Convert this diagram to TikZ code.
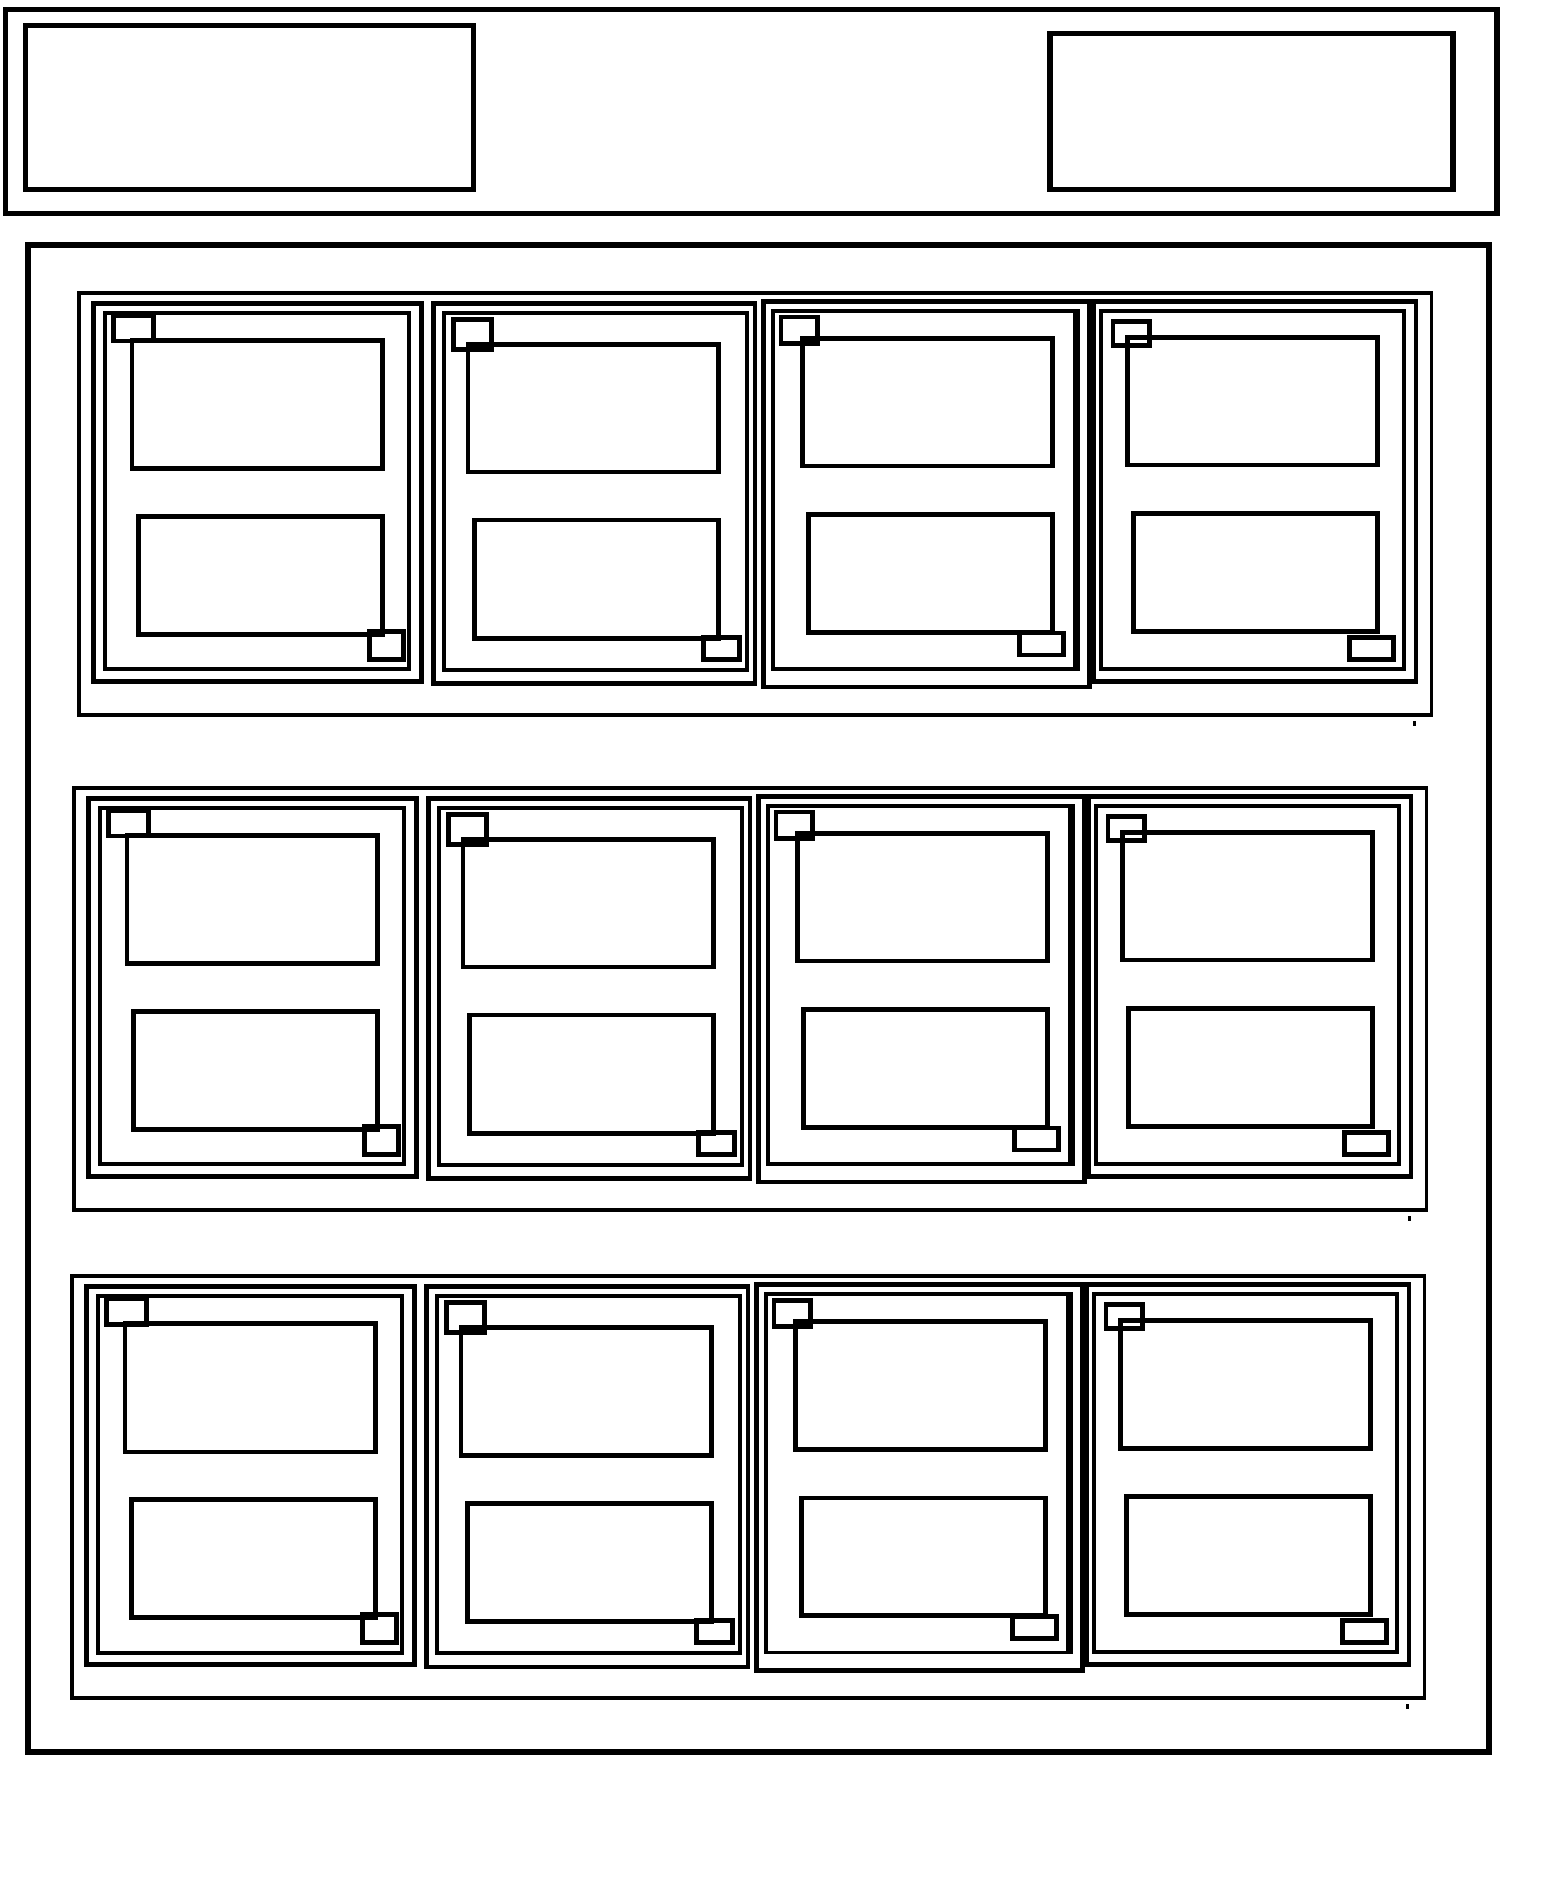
\documentclass[tikz,border=0pt]{standalone}
\begin{document}
\begin{tikzpicture}[x=1pt,y=-1pt,line join=miter,line cap=rect]
\tikzset{
  hdr/.style={draw=black,line width=5.3pt},
  panel/.style={draw=black,line width=6.2pt},
  rowbox/.style={draw=black,line width=3.9pt},
  cardout/.style={draw=black,line width=4.5pt},
  cardin/.style={draw=black,line width=3.9pt},
  slot/.style={draw=black,line width=4.5pt},
  tag/.style={draw=black,line width=4.5pt}
}
\useasboundingbox (0,0) rectangle (1568,1880);
\fill[white] (0,0) rectangle (1568,1880);
% header
\draw[hdr] (5.4,9.3) rectangle (1497,213.3);
\draw[hdr] (25.5,25.3) rectangle (473.4,189.3);
\draw[hdr] (1050,33.5) rectangle (1453,189.3);
% main panel
\draw[panel] (28,245) rectangle (1489,1752);
\newcommand{\cardrowdraw}{%
  \draw[rowbox] (79.3,292.7) rectangle (1431.5,715);
  \fill[black] (1413,721) rectangle (1416,726);
  % card 1
  \draw[cardout] (93.3,303.3) rectangle (421.3,681.3);
  \draw[cardin] (105.3,312.7) rectangle (409,669.3);
  \draw[tag] (113.3,315.7) rectangle (153.3,341);
  \draw[slot] (132,340.3) rectangle (382.7,468.7);
  \draw[slot] (138.3,516.3) rectangle (382.7,634.3);
  \draw[tag] (369.3,631.3) rectangle (403.3,659.3);
  % card 2
  \draw[cardout] (433.3,303.3) rectangle (755,683.7);
  \draw[cardin] (444,312.7) rectangle (746.7,669.7);
  \draw[tag] (453.3,319.3) rectangle (491.3,349.3);
  \draw[slot] (468,344.3) rectangle (718.3,472);
  \draw[slot] (474.3,520) rectangle (718.3,638.3);
  \draw[tag] (703.7,637.3) rectangle (739.3,659.3);
  % card 3
  \draw[cardout] (763.3,301.3) rectangle (1089.3,687);
  \draw[cardin] (773.3,311) rectangle (1075,669.2);
  \fill[black] (1075,309) rectangle (1080,671);
  \draw[tag] (781,317) rectangle (817.3,343.3);
  \draw[slot] (802.3,338.3) rectangle (1052.3,466);
  \draw[slot] (808.3,514.7) rectangle (1052.3,632.3);
  \draw[tag] (1019.7,633) rectangle (1063.3,655);
  % card 4
  \draw[cardout] (1093.3,301.3) rectangle (1416,681.3);
  \draw[cardin] (1101,311) rectangle (1403.7,668.7);
  \draw[tag] (1113,321.3) rectangle (1149.7,345.3);
  \draw[slot] (1127.3,337.3) rectangle (1377.3,465);
  \draw[slot] (1133.3,513.3) rectangle (1377.3,631.3);
  \draw[tag] (1349.3,637.3) rectangle (1393.3,659.3);
}
\begin{scope}
  \cardrowdraw
\end{scope}
\begin{scope}[shift={(-5,495)}]
  \cardrowdraw
\end{scope}
\begin{scope}[shift={(-7,983.3)}]
  \cardrowdraw
\end{scope}
\end{tikzpicture}
\end{document}
